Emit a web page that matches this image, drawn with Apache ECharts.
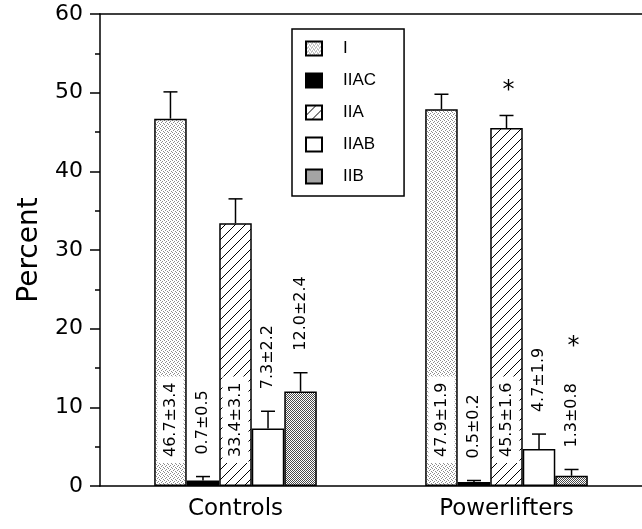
<!DOCTYPE html>
<html>
<head>
<meta charset="utf-8">
<script src="https://cdn.jsdelivr.net/npm/echarts@6/dist/echarts.min.js"></script>
<style>
  html, body { margin: 0; padding: 0; background: #fff; }
  #chart { width: 642px; height: 529px; }
</style>
</head>
<body>
<div id="chart"></div>
<script>
  // groups on the x axis
  const categories = ['Controls', 'Powerlifters'];
  // fibre types (one bar series each)
  const fiberTypes = ['I', 'IIAC', 'IIA', 'IIAB', 'IIB'];
  // mean percent, order = fiberTypes
  const meanControls = [46.7, 0.7, 33.4, 7.3, 12.0];
  const sdControls = [3.4, 0.5, 3.1, 2.2, 2.4];
  const meanPowerlifters = [47.9, 0.5, 45.5, 4.7, 1.3];
  const sdPowerlifters = [1.9, 0.2, 1.6, 1.9, 0.8];
  // asterisks (significant difference), 1 = show
  const signifControls = [0, 0, 0, 0, 0];
  const signifPowerlifters = [0, 0, 1, 0, 1];
  // y axis ticks
  const yTicks = [0, 10, 20, 30, 40, 50, 60];

  const means = [meanControls, meanPowerlifters];
  const sds = [sdControls, sdPowerlifters];
  const signif = [signifControls, signifPowerlifters];

  const CAT_GAP = 0.4;
  const LABEL_FONT = 16;
  const LABEL_FAMILY = 'DejaVu Sans';

  // small tiles for the fill patterns
  function makeTile(size, draw) {
    const c = document.createElement('canvas');
    c.width = c.height = size;
    const ctx = c.getContext('2d');
    ctx.fillStyle = '#fff';
    ctx.fillRect(0, 0, size, size);
    draw(ctx);
    return c;
  }
  const lightDots = makeTile(4, ctx => {
    ctx.fillStyle = '#8c8c8c';
    [[0, 0], [2, 1], [1, 2], [3, 3]].forEach(p => ctx.fillRect(p[0], p[1], 1, 1));
  });
  const darkDots = makeTile(2, ctx => {
    ctx.fillStyle = '#4a4a4a';
    ctx.fillRect(0, 0, 1, 1);
    ctx.fillRect(1, 1, 1, 1);
  });
  const hatch = makeTile(10, ctx => {
    ctx.strokeStyle = '#000';
    ctx.lineWidth = 1;
    ctx.beginPath();
    ctx.moveTo(0, 10); ctx.lineTo(10, 0);
    ctx.moveTo(-1, 1); ctx.lineTo(1, -1);
    ctx.moveTo(9, 11); ctx.lineTo(11, 9);
    ctx.stroke();
  });

  const fills = [
    { image: lightDots, repeat: 'repeat' },
    '#000',
    { image: hatch, repeat: 'repeat' },
    '#fff',
    { image: darkDots, repeat: 'repeat' }
  ];

  // measure label length for placing it inside / above the bar
  const measureCtx = document.createElement('canvas').getContext('2d');
  measureCtx.font = LABEL_FONT + 'px ' + LABEL_FAMILY;

  const barSeries = fiberTypes.map((name, i) => ({
    name: name,
    type: 'bar',
    data: categories.map((c, ci) => means[ci][i]),
    barGap: '0%',
    barCategoryGap: (CAT_GAP * 100) + '%',
    itemStyle: {
      color: fills[i],
      borderColor: '#000',
      borderWidth: 1.5
    }
  }));

  const errData = [];
  categories.forEach((c, ci) => {
    fiberTypes.forEach((t, ti) => {
      errData.push([ci, ti, means[ci][ti], sds[ci][ti], signif[ci][ti]]);
    });
  });

  function renderErr(params, api) {
    const ci = api.value(0);
    const ti = api.value(1);
    const mean = api.value(2);
    const sd = api.value(3);
    const star = api.value(4);
    const base = api.coord([ci, 0]);
    const catW = api.size([1, 0])[0];
    const barW = catW * (1 - CAT_GAP) / fiberTypes.length;
    const cx = base[0] - catW * (1 - CAT_GAP) / 2 + (ti + 0.5) * barW;
    const yTop = api.coord([ci, mean])[1];
    const yErr = api.coord([ci, mean + sd])[1];
    const lineStyle = { stroke: '#000', lineWidth: 1.5 };

    const text = mean.toFixed(1) + '±' + sd.toFixed(1);
    const textLen = measureCtx.measureText(text).width;
    const inside = (base[1] - yTop) > textLen + 40;
    const anchorY = inside ? base[1] - 23 : yErr - 22;

    const children = [
      { type: 'line', shape: { x1: cx, y1: yTop, x2: cx, y2: yErr }, style: lineStyle },
      { type: 'line', shape: { x1: cx - 7, y1: yErr, x2: cx + 7, y2: yErr }, style: lineStyle },
      {
        type: 'text',
        x: cx,
        y: anchorY,
        rotation: Math.PI / 2,
        style: {
          text: text,
          fill: '#000',
          fontSize: LABEL_FONT,
          fontFamily: LABEL_FAMILY,
          align: 'left',
          verticalAlign: 'middle',
          backgroundColor: inside ? '#fff' : null,
          padding: inside ? [5, 6, 5, 6] : 0
        }
      }
    ];
    if (star) {
      // asterisk above the error bar, or above the label when it sits over the bar
      const starY = inside ? yErr - 25 : anchorY - textLen - 36;
      children.push({
        type: 'text',
        x: cx + 2,
        y: starY,
        style: {
          text: '*',
          fill: '#000',
          fontSize: 24,
          fontFamily: 'DejaVu Sans',
          align: 'center',
          verticalAlign: 'middle'
        }
      });
    }
    return { type: 'group', children: children };
  }

  const chart = echarts.init(document.getElementById('chart'));
  chart.setOption({
    animation: false,
    backgroundColor: '#fff',
    grid: { left: 100, right: 0, top: 14, bottom: 43 },
    legend: {
      data: fiberTypes,
      orient: 'vertical',
      left: 292,
      top: 29,
      icon: 'rect',
      itemWidth: 16,
      itemHeight: 14,
      itemGap: 15,
      padding: [11, 28, 11, 13],
      backgroundColor: '#fff',
      borderColor: '#000',
      borderWidth: 1.5,
      textStyle: {
        color: '#000',
        fontSize: 17,
        lineHeight: 16,
        fontFamily: "'Liberation Sans', sans-serif",
        padding: [0, 0, 0, 16]
      }
    },
    xAxis: [
      {
        type: 'category',
        data: categories,
        axisLine: { lineStyle: { color: '#000', width: 1.5 } },
        axisTick: { show: false },
        axisLabel: {
          color: '#000',
          fontSize: 23,
          fontFamily: 'DejaVu Sans',
          margin: 12
        }
      },
      {
        type: 'category',
        data: categories,
        position: 'top',
        axisLine: { show: true, lineStyle: { color: '#000', width: 1.5 } },
        axisTick: { show: false },
        axisLabel: { show: false }
      }
    ],
    yAxis: {
      type: 'value',
      min: yTicks[0],
      max: yTicks[yTicks.length - 1],
      interval: yTicks[1] - yTicks[0],
      name: 'Percent',
      nameLocation: 'middle',
      nameGap: 55,
      nameTextStyle: { color: '#000', fontSize: 28, fontFamily: 'DejaVu Sans' },
      axisLine: { show: true, lineStyle: { color: '#000', width: 1.5 } },
      axisTick: { show: true, length: 10, lineStyle: { color: '#000', width: 1.5 } },
      minorTick: { show: true, splitNumber: 2, length: 5, lineStyle: { color: '#000', width: 1.5 } },
      splitLine: { show: false },
      axisLabel: {
        color: '#000',
        fontSize: 22,
        fontFamily: 'DejaVu Sans',
        margin: 17
      }
    },
    series: barSeries.concat([{
      name: 'err',
      type: 'custom',
      renderItem: renderErr,
      data: errData,
      encode: { x: 0, y: 2 },
      z: 10,
      clip: false
    }])
  });
</script>
</body>
</html>
